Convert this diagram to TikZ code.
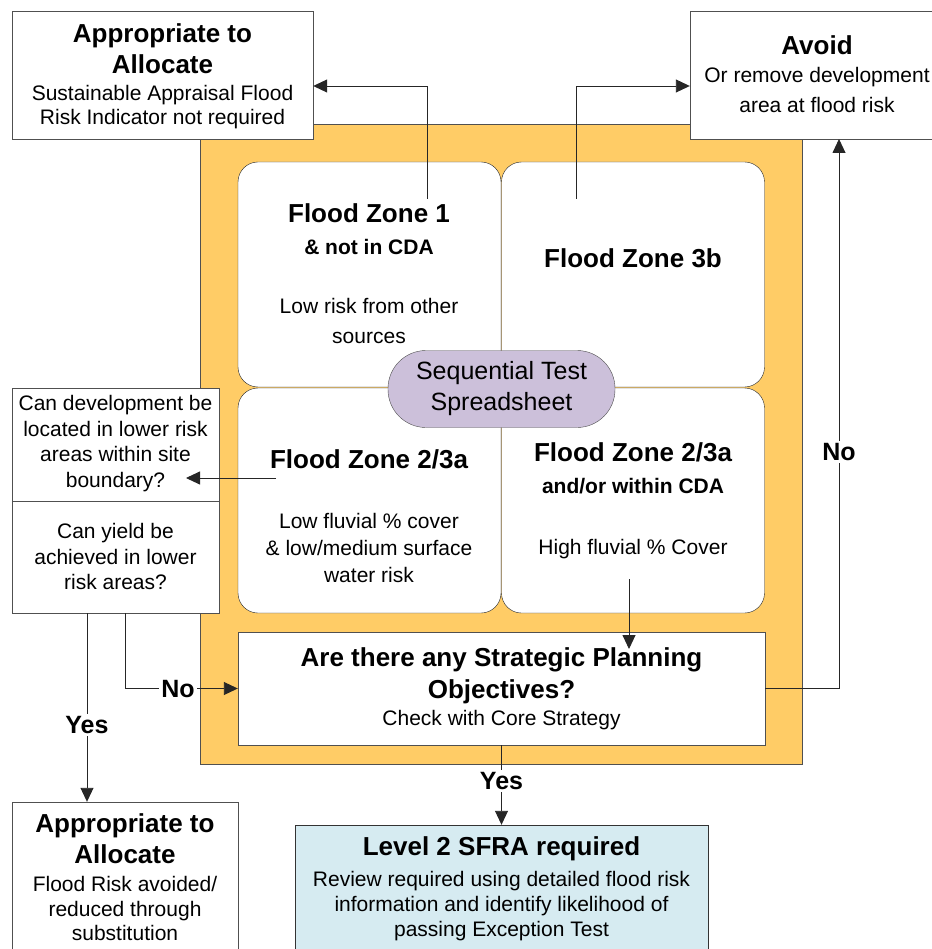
\documentclass[tikz,border=0pt]{standalone}
\usepackage{fontspec}
\setmainfont{Liberation Sans}
\usetikzlibrary{arrows.meta}
\definecolor{zoneorange}{RGB}{255,204,102}
\definecolor{seqlilac}{RGB}{204,192,218}
\definecolor{sfrablue}{RGB}{214,235,241}
\definecolor{edgegrey}{RGB}{80,80,80}

\begin{document}
\begin{tikzpicture}[x=1pt,y=-1pt,
    box/.style={draw=edgegrey, fill=white, rectangle, inner sep=0pt},
    zone/.style={box, draw=black!85, rounded corners=20pt, minimum width=263pt, minimum height=225pt},
    head/.style={font=\fontsize{26}{31}\selectfont\bfseries, align=center, inner sep=0pt},
    subhead/.style={font=\fontsize{21}{25}\selectfont\bfseries, align=center, inner sep=0pt},
    body/.style={font=\fontsize{21}{25}\selectfont, align=center, inner sep=0pt},
    conn/.style={draw=black!85, line width=0.9pt},
    arr/.style={conn, -{Triangle[length=14pt,width=13pt]}},
    lbl/.style={font=\fontsize{25}{30}\selectfont\bfseries, fill=white, inner sep=2pt}]
                    \useasboundingbox (0,0) rectangle (931,949);

                    % Orange frame
                    \draw[edgegrey, fill=zoneorange] (200,124) rectangle (802,764);

                    % Flood zones
                    \node[zone] (fzone1) at (369.5,274.5) {};
                    \node[zone] (fzone3b) at (633,274.5) {};
                    \node[zone] (fzone2l) at (369.5,500.5) {};
                    \node[zone] (fzone2r) at (633,500.5) {};

                    \node[head] (fzone1h) at (369,213) {Flood Zone 1};
                    \node[subhead] (fzone1s) at (369,247) {\& not in CDA};
                    \node[body, font=\fontsize{21}{30}\selectfont] (fzone1b) at (369,321) {Low risk from other\\sources};

                    \node[head] (fzone3bh) at (633,258) {Flood Zone 3b};

                    \node[head] (fzone2lh) at (369,459) {Flood Zone 2/3a};
                    \node[body, font=\fontsize{21}{27}\selectfont] (fzone2lb) at (369,547.5) {Low fluvial \% cover\\\& low/medium surface\\water risk};

                    \node[head] (fzone2rh) at (633,452) {Flood Zone 2/3a};
                    \node[subhead] (fzone2rs) at (633,486) {and/or within CDA};
                    \node[body] (fzone2rb) at (633,549) {High fluvial \% Cover};

                    % Spreadsheet
                    \node[box, fill=seqlilac, rounded corners=38pt, minimum width=227pt, minimum height=77pt, body, font=\fontsize{25}{31}\selectfont] (seqtest) at (501.5,389) {Sequential Test\\Spreadsheet};

                    % Question box
                    \node[box, minimum width=207pt, minimum height=225pt] (quest) at (115.5,500.5) {};
                    \coordinate (qsplit) at (0,501);
                    \draw[edgegrey] (quest.west |- qsplit) -- (quest.east |- qsplit);
                    \node[body, font=\fontsize{21}{25.7}\selectfont] (questa) at (115.5,443.5) {Can development be\\located in lower risk\\areas within site\\boundary?};
                    \node[body, font=\fontsize{21}{25.5}\selectfont] (questb) at (115.5,556.5) {Can yield be\\achieved in lower\\risk areas?};

                    % Strategic planning
                    \node[box, minimum width=527pt, minimum height=113pt] (strat) at (501.5,688.5) {};
                    \node[head, font=\fontsize{26}{32}\selectfont\bfseries] (strath) at (501.5,676) {Are there any Strategic Planning\\Objectives?};
                    \node[body] (stratb) at (501.5,720) {Check with Core Strategy};

                    % Outcomes
                    \node[box, minimum width=301pt, minimum height=128pt] (alloc1) at (162.5,75) {};
                    \node[head] (alloc1h) at (162.5,48.5) {Appropriate to\\Allocate};
                    \node[body, font=\fontsize{21}{24}\selectfont] (alloc1b) at (162.5,107) {Sustainable Appraisal Flood\\Risk Indicator not required};

                    \node[box, minimum width=254pt, minimum height=128pt] (avoid) at (817,75) {};
                    \node[head] (avoidh) at (817,45) {Avoid};
                    \node[body, font=\fontsize{21}{30}\selectfont] (avoidb) at (817,90) {Or remove development\\area at flood risk};

                    \node[box, minimum width=226pt, minimum height=160pt] (alloc2) at (125,882) {};
                    \node[head] (alloc2h) at (125,838.5) {Appropriate to\\Allocate};
                    \node[body, font=\fontsize{21}{24.5}\selectfont] (alloc2b) at (125,908.5) {Flood Risk avoided/\\reduced through\\substitution};

                    \node[box, fill=sfrablue, draw=black!80, minimum width=413pt, minimum height=140pt] (level2) at (501.5,895) {};
                    \node[head] (level2h) at (501.5,849) {Level 2 SFRA required};
                    \node[body] (level2b) at (501.5,906.5) {Review required using detailed flood risk\\information and identify likelihood of\\passing Exception Test};

                    % Connectors
                    \coordinate (fz1out) at (427,199);
                    \coordinate (fz3bout) at (576,199);
                    \coordinate (fz2lout) at (276,478);
                    \coordinate (questin) at (186,478);
                    \coordinate (fz2rout) at (629,579);
                    \coordinate (stratin) at (629,649);
                    \coordinate (questno) at (125,613);
                    \coordinate (questyes) at (87,613);
                    \coordinate (avoidin) at (839,139);

                    \draw[arr] (fz1out) |- ([yshift=-11pt]alloc1.east);
                    \draw[arr] (fz3bout) |- ([yshift=-11pt]avoid.west);
                    \draw[arr] (fz2lout) -- (questin);
                    \draw[arr] (fz2rout) -- (stratin);
                    \draw[arr] (questno) |- (strat.west);
                    \draw[arr] (questyes) -- (questyes |- alloc2.north);
                    \draw[arr] (strat.east) -| (avoidin);
                    \draw[arr] (strat.south) -- (level2.north);

                    % Yes / No
                    \node[lbl] (nolow) at (178,689) {No};
                    \node[lbl] (yesleft) at (87,725) {Yes};
                    \node[lbl] (noright) at (839,452) {No};
                    \node[lbl] (yesdown) at (501.5,781) {Yes};
                \end{tikzpicture}
\end{document}
